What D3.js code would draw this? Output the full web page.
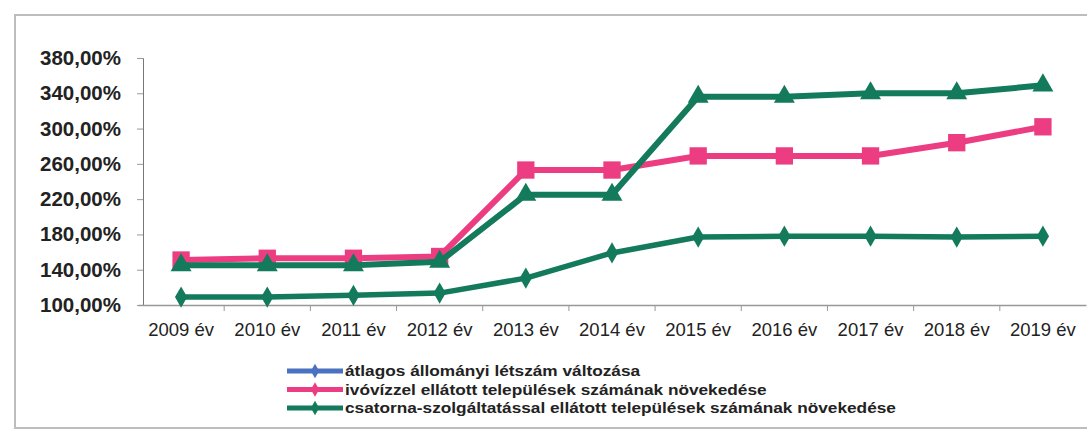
<!DOCTYPE html>
<html>
<head>
<meta charset="utf-8">
<script src="https://cdn.jsdelivr.net/npm/d3@7"></script>
<style>
  body { margin: 0; background: #fff; }
  svg { display: block; font-family: "Liberation Sans", Arial, sans-serif; }
</style>
</head>
<body>
<div id="chart"></div>
<script>
// Évek (kategóriák)
const years = ["2009 év", "2010 év", "2011 év", "2012 év", "2013 év", "2014 év",
               "2015 év", "2016 év", "2017 év", "2018 év", "2019 év"];

// Sorozatok (%-ban)
const letszam = [109, 109, 111, 113.5, 130.5, 159, 177, 178, 178, 177, 178];
const ivoviz = [151, 153, 153, 155, 253, 253, 269, 269, 269, 284, 302];
const csatorna = [145, 145, 145, 149, 225, 225, 336, 336, 340, 340, 349];

const yTicks = [100, 140, 180, 220, 260, 300, 340, 380];

const legendNames = [
    "átlagos állományi létszám változása",
    "ivóvízzel ellátott települések számának növekedése",
    "csatorna-szolgáltatással ellátott települések számának növekedése"
];

const width = 1087, height = 432;
const green = "#137a5c", pink = "#ec3d82", blue = "#4a72c0";

const svg = d3.select("#chart").append("svg")
    .attr("width", width)
    .attr("height", height);

// Keret
svg.append("rect")
    .attr("x", 15).attr("y", 15)
    .attr("width", 1100).attr("height", 413)
    .attr("fill", "none")
    .attr("stroke", "#bdbdbd")
    .attr("stroke-width", 2);

const x = d3.scaleBand()
    .domain(years)
    .range([138, 1086]);

const y = d3.scaleLinear()
    .domain([100, 380])
    .range([305, 58]);

// Y tengely
const yAxis = svg.append("g")
    .attr("transform", "translate(143,0)")
    .call(d3.axisLeft(y).tickValues(yTicks).tickSize(6)
        .tickFormat(d => d3.format(".2f")(d).replace(".", ",") + "%"));
yAxis.select(".domain").attr("stroke", "#777");
yAxis.selectAll(".tick line").attr("stroke", "#999");
yAxis.selectAll("text")
    .attr("x", -22)
    .attr("fill", "#222")
    .style("font-size", "20.5px")
    .style("font-weight", "bold");

// X tengely
const xAxis = svg.append("g")
    .attr("transform", "translate(0,305)")
    .call(d3.axisBottom(x).tickSize(0).tickPadding(18));
xAxis.select(".domain").attr("stroke", "#999").attr("stroke-width", 1.5);
xAxis.selectAll("text")
    .attr("fill", "#222")
    .style("font-size", "18.5px");

// Osztásvonalak a kategóriák között
svg.append("g").selectAll("line")
    .data(years.slice(1))
    .join("line")
    .attr("x1", d => x(d)).attr("x2", d => x(d))
    .attr("y1", 305).attr("y2", 311)
    .attr("stroke", "#999");

const line = d3.line()
    .x((d, i) => x(years[i]) + x.bandwidth() / 2)
    .y(d => y(d));

const series = [
    { values: letszam, color: green, marker: d3.symbolDiamond, size: 130, w: 5.5 },
    { values: ivoviz, color: pink, marker: d3.symbolSquare, size: 300, w: 6 },
    { values: csatorna, color: green, marker: d3.symbolTriangle, size: 190, w: 6 }
];

series.forEach(s => {
    svg.append("path")
        .datum(s.values)
        .attr("fill", "none")
        .attr("stroke", s.color)
        .attr("stroke-width", s.w)
        .attr("stroke-linejoin", "round")
        .attr("d", line);

    svg.append("g").selectAll("path")
        .data(s.values)
        .join("path")
        .attr("transform", (d, i) => `translate(${x(years[i]) + x.bandwidth() / 2},${y(d)})`)
        .attr("d", d3.symbol().type(s.marker).size(s.size))
        .attr("fill", s.color);
});

// Jelmagyarázat
const legendColors = [blue, pink, green];
const legend = svg.append("g")
    .attr("transform", "translate(287,371)");

legendNames.forEach((name, i) => {
    const g = legend.append("g").attr("transform", `translate(0,${i * 18.5})`);
    g.append("line")
        .attr("x1", 0).attr("x2", 56)
        .attr("stroke", legendColors[i])
        .attr("stroke-width", 5);
    g.append("path")
        .attr("transform", "translate(28,0)")
        .attr("d", d3.symbol().type(d3.symbolDiamond).size(60))
        .attr("fill", legendColors[i]);
    g.append("text")
        .attr("transform", "translate(58,0) scale(1.19,1)")
        .attr("dy", "0.35em")
        .attr("fill", "#222")
        .style("font-size", "14.5px")
        .style("font-weight", "bold")
        .text(name);
});
</script>
</body>
</html>
